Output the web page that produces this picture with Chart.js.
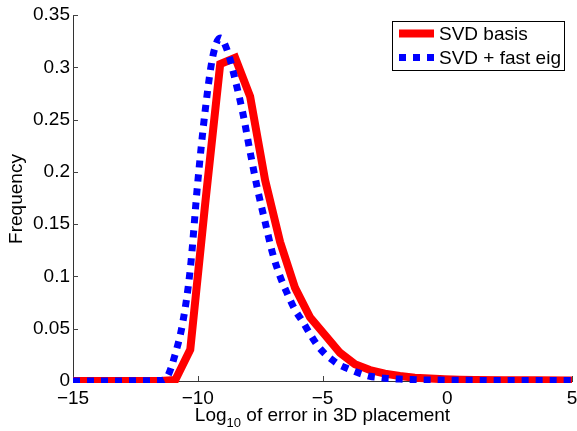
<!DOCTYPE html>
<html>
<head>
<meta charset="utf-8">
<script src="https://cdn.jsdelivr.net/npm/chart.js@4.4.1/dist/chart.umd.min.js"></script>
<style>
  html, body { margin: 0; padding: 0; background: #fff; }
  canvas { display: block; }
</style>
</head>
<body>
<canvas id="myChart" width="577" height="431"></canvas>
<script>
// histogram of log10 error
const xRed = [-15, -11.5, -10.9, -10.3, -9.7, -9.1, -8.5, -7.9, -7.3, -6.7, -6.1, -5.5, -4.9, -4.3, -3.7, -3.1, -2.5, -1.9, -1.3, -0.7, -0.1, 0.5, 1.1, 2.3, 3.5, 5];
const yRed = [0, 0, 0.001, 0.030, 0.170, 0.303, 0.309, 0.272, 0.192, 0.133, 0.089, 0.061, 0.044, 0.027, 0.016, 0.0105, 0.007, 0.0048, 0.0032, 0.0023, 0.0017, 0.0013, 0.001, 0.0008, 0.0006, 0.0005];

const xBlue = [-15, -11.5, -11.2, -10.9, -10.6, -10.3, -10.0, -9.7, -9.4, -9.1, -8.8, -8.5, -8.2, -7.9, -7.6, -7.3, -7.0, -6.7, -6.4, -6.1, -5.8, -5.5, -5.2, -4.9, -4.6, -4.3, -4.0, -3.7, -3.4, -3.1, -2.8, -2.5, -2.2, -1.9, -1.6, -1.3, -1.0, 0, 1, 2, 3, 4, 5];
const yBlue = [0, 0.0005, 0.005, 0.026, 0.056, 0.107, 0.190, 0.259, 0.310, 0.328, 0.315, 0.288, 0.257, 0.219, 0.183, 0.152, 0.122, 0.100, 0.083, 0.068, 0.057, 0.045, 0.034, 0.026, 0.020, 0.015, 0.012, 0.009, 0.0065, 0.0045, 0.0035, 0.0027, 0.0022, 0.0018, 0.0015, 0.0013, 0.0011, 0.0008, 0.0006, 0.0005, 0.0005, 0.0005, 0.0005];

const seriesLabels = ["SVD basis", "SVD + fast eig"];
const xTicks = [-15, -10, -5, 0, 5];
const yTicks = [0, 0.05, 0.1, 0.15, 0.2, 0.25, 0.3, 0.35];

const FONT = "'Liberation Sans', Arial, Helvetica, sans-serif";
const FS = 19;

const toPoints = (xs, ys) => xs.map((x, i) => ({ x: x, y: ys[i] }));

// matlab style: ticks pointing inwards, no box
const innerTicks = {
  id: "innerTicks",
  beforeDatasetsDraw(chart) {
    const ctx = chart.ctx;
    const a = chart.chartArea;
    const sx = chart.scales.x;
    const sy = chart.scales.y;
    ctx.save();
    ctx.strokeStyle = "#444";
    ctx.lineWidth = 1;
    ctx.beginPath();
    xTicks.forEach(v => {
      const px = Math.round(sx.getPixelForValue(v)) + 0.5;
      ctx.moveTo(px, a.bottom);
      ctx.lineTo(px, a.bottom - 5);
    });
    yTicks.forEach(v => {
      const py = Math.round(sy.getPixelForValue(v)) + 0.5;
      ctx.moveTo(a.left, py);
      ctx.lineTo(a.left + 5, py);
    });
    ctx.stroke();
    ctx.restore();
  }
};

const titlesAndLegend = {
  id: "titlesAndLegend",
  afterDraw(chart) {
    const ctx = chart.ctx;
    const a = chart.chartArea;
    ctx.save();
    ctx.fillStyle = "#000";

    // y title
    ctx.save();
    ctx.translate(17, 199);
    ctx.rotate(-Math.PI / 2);
    ctx.font = FS + "px " + FONT;
    ctx.textAlign = "center";
    ctx.textBaseline = "middle";
    ctx.fillText("Frequency", 0, 0);
    ctx.restore();

    // x title with subscript
    const big = FS + "px " + FONT;
    const small = "13px " + FONT;
    ctx.font = big;
    const w1 = ctx.measureText("Log").width;
    const w3 = ctx.measureText(" of error in 3D placement").width;
    ctx.font = small;
    const w2 = ctx.measureText("10").width;
    let x0 = (a.left + a.right) / 2 - (w1 + w2 + w3) / 2;
    const base = 421;
    ctx.textAlign = "left";
    ctx.textBaseline = "alphabetic";
    ctx.font = big;
    ctx.fillText("Log", x0, base);
    ctx.font = small;
    ctx.fillText("10", x0 + w1, base + 6);
    ctx.font = big;
    ctx.fillText(" of error in 3D placement", x0 + w1 + w2, base);

    // legend box
    const bx = 392.5, by = 21.5, bw = 172, bh = 49;
    ctx.fillStyle = "#fff";
    ctx.fillRect(bx, by, bw, bh);
    ctx.strokeStyle = "#000";
    ctx.lineWidth = 1;
    ctx.strokeRect(bx, by, bw, bh);
    const rows = [33.5, 57.5];
    chart.data.datasets.forEach((ds, i) => {
      const yy = rows[i];
      ctx.save();
      ctx.strokeStyle = ds.borderColor;
      ctx.lineWidth = ds.borderWidth;
      ctx.lineCap = "butt";
      ctx.setLineDash(ds.borderDash || []);
      ctx.beginPath();
      ctx.moveTo(399, yy);
      ctx.lineTo(434, yy);
      ctx.stroke();
      ctx.restore();
      ctx.fillStyle = "#000";
      ctx.font = big;
      ctx.textBaseline = "middle";
      ctx.fillText(ds.label, 439, yy + 1);
    });
    ctx.restore();
  }
};

const fmt = v => {
  const r = Math.round(v * 100) / 100;
  return r < 0 ? "\u2212" + Math.abs(r) : String(r);
};

new Chart(document.getElementById("myChart"), {
  type: "line",
  data: {
    datasets: [
      {
        label: seriesLabels[0],
        data: toPoints(xRed, yRed),
        borderColor: "#ff0000",
        borderWidth: 8,
        pointRadius: 0,
        tension: 0,
        order: 2,
        clip: { left: 0, top: 0, right: 0, bottom: 2 }
      },
      {
        label: seriesLabels[1],
        data: toPoints(xBlue, yBlue),
        borderColor: "#0000ff",
        borderWidth: 7,
        borderDash: [7, 7],
        borderCapStyle: "butt",
        pointRadius: 0,
        cubicInterpolationMode: "monotone",
        order: 1,
        clip: { left: 0, top: 0, right: 0, bottom: 2 }
      }
    ]
  },
  options: {
    responsive: false,
    animation: false,
    devicePixelRatio: 1,
    layout: { padding: { top: 15, right: 5, left: 0, bottom: 0 } },
    plugins: {
      legend: { display: false },
      tooltip: { enabled: false }
    },
    scales: {
      x: {
        type: "linear",
        min: -15,
        max: 5,
        afterFit: s => { s.height = 50; s.paddingLeft = 0; s.paddingRight = 0; },
        afterBuildTicks: s => { s.ticks = xTicks.map(v => ({ value: v })); },
        ticks: {
          color: "#000",
          font: { family: FONT, size: FS },
          padding: 6,
          maxRotation: 0,
          callback: fmt
        },
        grid: { display: false, drawTicks: false },
        border: { display: true, color: "#333", width: 1 }
      },
      y: {
        type: "linear",
        min: 0,
        max: 0.35,
        afterFit: s => { s.width = 73; s.paddingTop = 0; s.paddingBottom = 0; },
        afterBuildTicks: s => { s.ticks = yTicks.map(v => ({ value: v })); },
        ticks: {
          color: "#000",
          font: { family: FONT, size: FS },
          padding: 3,
          callback: fmt
        },
        grid: { display: false, drawTicks: false },
        border: { display: true, color: "#333", width: 1 }
      }
    }
  },
  plugins: [innerTicks, titlesAndLegend]
});
</script>
</body>
</html>
